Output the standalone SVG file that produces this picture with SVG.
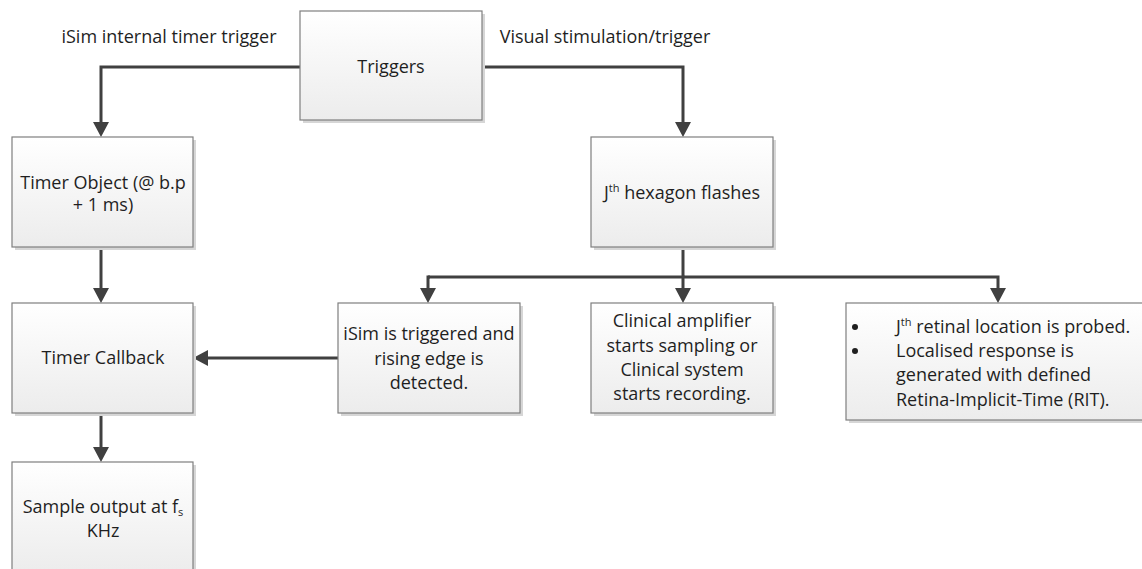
<svg xmlns="http://www.w3.org/2000/svg" width="1142" height="569" viewBox="0 0 1142 569">
  <defs>
    <linearGradient id="boxFill" x1="0" y1="0" x2="0" y2="1">
      <stop offset="0" stop-color="#ffffff"/>
      <stop offset="1" stop-color="#ececec"/>
    </linearGradient>
    <marker id="arrow" viewBox="0 0 15 16" markerWidth="15" markerHeight="16" refX="1" refY="8" orient="auto" markerUnits="userSpaceOnUse">
      <path d="M0,0 L15,8 L0,16 z" fill="#404040"/>
    </marker>
  </defs>
  <style>
    .box { fill: url(#boxFill); stroke: #7f7f7f; stroke-width: 1.2; }
    .shadow { fill: #d6d6d6; }
    .lbl { font-family: "Open Sans", "Liberation Sans", Arial, sans-serif; font-size: 18px; fill: #1f1f1f; }
    .mid { text-anchor: middle; }
    .sup { font-size: 11px; }
    .conn { fill: none; stroke: #404040; stroke-width: 3; marker-end: url(#arrow); }
    .plain { fill: none; stroke: #404040; stroke-width: 3; }
  </style>
  <rect width="1142" height="569" fill="#ffffff"/>

  <!-- edge labels -->
  <text class="lbl mid" x="169" y="43">iSim internal timer trigger</text>
  <text class="lbl mid" x="605" y="43">Visual stimulation/trigger</text>

  <g id="connectors">
    <path class="conn" d="M300,67 H101 V123"/>
    <path class="conn" d="M482,67 H683 V123"/>
    <path class="conn" d="M101,247 V289"/>
    <path class="conn" d="M101,413 V448"/>
    <path class="conn" d="M338,358 H207"/>
    <path class="plain" d="M683,247 V277"/>
    <path class="conn" d="M428,277 H683 V289"/>
    <path class="conn" d="M683,277 H998 V289"/>
    <path class="conn" d="M430,277 H428 V289"/>
  </g>

  <g id="triggers">
    <rect class="shadow" x="303" y="14" width="182" height="109"/>
    <rect class="box" x="300" y="11" width="182" height="109"/>
    <text class="lbl mid" x="391" y="73">Triggers</text>
  </g>

  <g id="timer-object">
    <rect class="shadow" x="15" y="140" width="181" height="110"/>
    <rect class="box" x="12" y="137" width="181" height="110"/>
    <text class="lbl mid" x="103" y="189">Timer Object (@ b.p</text>
    <text class="lbl mid" x="103" y="211">+ 1 ms)</text>
  </g>

  <g id="hexagon-flashes">
    <rect class="shadow" x="594" y="140" width="182" height="110"/>
    <rect class="box" x="591" y="137" width="182" height="110"/>
    <text class="lbl mid" x="682" y="199">J<tspan class="sup" dy="-7">th</tspan><tspan dy="7"> hexagon flashes</tspan></text>
  </g>

  <g id="timer-callback">
    <rect class="shadow" x="15" y="306" width="181" height="110"/>
    <rect class="box" x="12" y="303" width="181" height="110"/>
    <text class="lbl mid" x="103" y="364">Timer Callback</text>
  </g>

  <g id="sample-output">
    <rect class="shadow" x="15" y="465" width="181" height="110"/>
    <rect class="box" x="12" y="462" width="181" height="112"/>
    <text class="lbl mid" x="103" y="513">Sample output at f<tspan class="sup" dy="3">s</tspan></text>
    <text class="lbl mid" x="103" y="537">KHz</text>
  </g>

  <g id="isim-triggered">
    <rect class="shadow" x="341" y="306" width="182" height="110"/>
    <rect class="box" x="338" y="303" width="182" height="110"/>
    <text class="lbl mid" x="429" y="340">iSim is triggered and</text>
    <text class="lbl mid" x="429" y="365">rising edge is</text>
    <text class="lbl mid" x="429" y="389">detected.</text>
  </g>

  <g id="clinical-amplifier">
    <rect class="shadow" x="594" y="306" width="182" height="110"/>
    <rect class="box" x="591" y="303" width="182" height="110"/>
    <text class="lbl mid" x="682" y="327">Clinical amplifier</text>
    <text class="lbl mid" x="682" y="352">starts sampling or</text>
    <text class="lbl mid" x="682" y="376">Clinical system</text>
    <text class="lbl mid" x="682" y="400">starts recording.</text>
  </g>

  <g id="retinal-response">
    <rect class="shadow" x="849" y="306" width="300" height="117"/>
    <rect class="box" x="846" y="303" width="300" height="117"/>
    <circle cx="855" cy="327" r="3" fill="#1f1f1f"/>
    <circle cx="855" cy="351" r="3" fill="#1f1f1f"/>
    <text class="lbl" x="896" y="333">J<tspan class="sup" dy="-7">th</tspan><tspan dy="7"> retinal location is probed.</tspan></text>
    <text class="lbl" x="896" y="357">Localised response is</text>
    <text class="lbl" x="896" y="381">generated with defined</text>
    <text class="lbl" x="896" y="406">Retina-Implicit-Time (RIT).</text>
  </g>
</svg>
